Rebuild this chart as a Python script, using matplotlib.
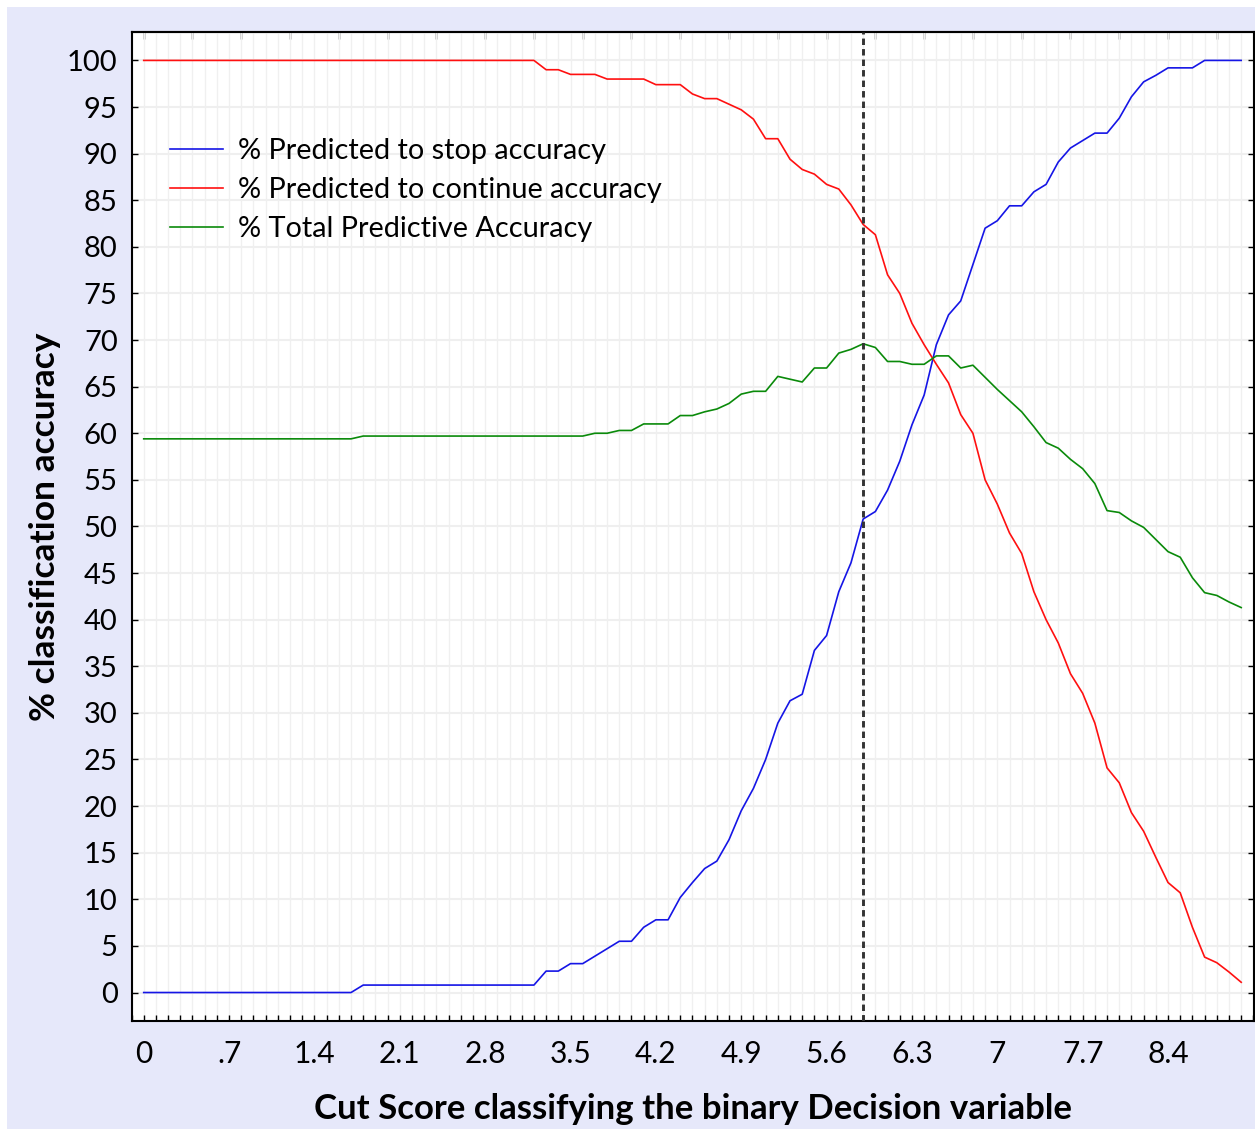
"""
Cut-score accuracy chart: % predicted to stop / continue and total accuracy
against the cut score of the binary Decision variable.
Writes out.png (1255x1130).
"""
import matplotlib
matplotlib.use("Agg")
import matplotlib.pyplot as plt
from matplotlib.patches import Rectangle
from matplotlib.ticker import FixedLocator, MultipleLocator

# Cut scores (x) at steps of 0.1
CUT_SCORES = [
    0.0, 0.1, 0.2, 0.3, 0.4, 0.5, 0.6, 0.7, 0.8, 0.9,
    1.0, 1.1, 1.2, 1.3, 1.4, 1.5, 1.6, 1.7, 1.8, 1.9,
    2.0, 2.1, 2.2, 2.3, 2.4, 2.5, 2.6, 2.7, 2.8, 2.9,
    3.0, 3.1, 3.2, 3.3, 3.4, 3.5, 3.6, 3.7, 3.8, 3.9,
    4.0, 4.1, 4.2, 4.3, 4.4, 4.5, 4.6, 4.7, 4.8, 4.9,
    5.0, 5.1, 5.2, 5.3, 5.4, 5.5, 5.6, 5.7, 5.8, 5.9,
    6.0, 6.1, 6.2, 6.3, 6.4, 6.5, 6.6, 6.7, 6.8, 6.9,
    7.0, 7.1, 7.2, 7.3, 7.4, 7.5, 7.6, 7.7, 7.8, 7.9,
    8.0, 8.1, 8.2, 8.3, 8.4, 8.5, 8.6, 8.7, 8.8, 8.9,
    9.0,
]

# % Predicted to stop accuracy
STOP_ACC = [
    0, 0, 0, 0, 0, 0, 0, 0, 0, 0,
    0, 0, 0, 0, 0, 0, 0, 0, 0.8, 0.8,
    0.8, 0.8, 0.8, 0.8, 0.8, 0.8, 0.8, 0.8, 0.8, 0.8,
    0.8, 0.8, 0.8, 2.3, 2.3, 3.1, 3.1, 3.9, 4.7, 5.5,
    5.5, 7.0, 7.8, 7.8, 10.2, 11.8, 13.3, 14.1, 16.4, 19.5,
    21.9, 25.0, 28.9, 31.3, 32.0, 36.7, 38.3, 43.0, 46.1, 50.8,
    51.6, 53.9, 57.0, 60.9, 64.1, 69.5, 72.7, 74.2, 78.1, 82.0,
    82.8, 84.4, 84.4, 85.9, 86.7, 89.1, 90.6, 91.4, 92.2, 92.2,
    93.8, 96.1, 97.7, 98.4, 99.2, 99.2, 99.2, 100, 100, 100,
    100,
]

# % Predicted to continue accuracy
CONTINUE_ACC = [
    100, 100, 100, 100, 100, 100, 100, 100, 100, 100,
    100, 100, 100, 100, 100, 100, 100, 100, 100, 100,
    100, 100, 100, 100, 100, 100, 100, 100, 100, 100,
    100, 100, 100, 99.0, 99.0, 98.5, 98.5, 98.5, 98.0, 98.0,
    98.0, 98.0, 97.4, 97.4, 97.4, 96.4, 95.9, 95.9, 95.3, 94.7,
    93.7, 91.6, 91.6, 89.4, 88.3, 87.8, 86.7, 86.2, 84.5, 82.4,
    81.3, 77.0, 75.0, 71.8, 69.5, 67.4, 65.4, 62.0, 60.0, 55.0,
    52.4, 49.3, 47.1, 43.0, 40.0, 37.5, 34.2, 32.1, 28.9, 24.1,
    22.5, 19.3, 17.3, 14.5, 11.8, 10.7, 7.0, 3.8, 3.2, 2.2,
    1.1,
]

# % Total Predictive Accuracy
TOTAL_ACC = [
    59.4, 59.4, 59.4, 59.4, 59.4, 59.4, 59.4, 59.4, 59.4, 59.4,
    59.4, 59.4, 59.4, 59.4, 59.4, 59.4, 59.4, 59.4, 59.7, 59.7,
    59.7, 59.7, 59.7, 59.7, 59.7, 59.7, 59.7, 59.7, 59.7, 59.7,
    59.7, 59.7, 59.7, 59.7, 59.7, 59.7, 59.7, 60.0, 60.0, 60.3,
    60.3, 61.0, 61.0, 61.0, 61.9, 61.9, 62.3, 62.6, 63.2, 64.2,
    64.5, 64.5, 66.1, 65.8, 65.5, 67.0, 67.0, 68.6, 69.0, 69.6,
    69.2, 67.7, 67.7, 67.4, 67.4, 68.3, 68.3, 67.0, 67.3, 66.0,
    64.7, 63.5, 62.3, 60.7, 59.0, 58.4, 57.2, 56.2, 54.6, 51.7,
    51.5, 50.6, 49.9, 48.6, 47.3, 46.7, 44.5, 42.9, 42.6, 41.9,
    41.3,
]

SERIES_LABELS = [
    "% Predicted to stop accuracy",
    "% Predicted to continue accuracy",
    "% Total Predictive Accuracy",
]
SERIES_COLORS = ["#1515e6", "#ff1010", "#0a8a0a"]

X_TICKS = [0, 0.7, 1.4, 2.1, 2.8, 3.5, 4.2, 4.9, 5.6, 6.3, 7.0, 7.7, 8.4]
X_TICK_LABELS = ["0", ".7", "1.4", "2.1", "2.8", "3.5", "4.2", "4.9", "5.6",
                 "6.3", "7", "7.7", "8.4"]
Y_TICKS = [0, 5, 10, 15, 20, 25, 30, 35, 40, 45, 50, 55, 60, 65, 70, 75, 80,
           85, 90, 95, 100]
CUTOFF = 5.9  # chosen cut score (dashed line)

FONT = ["Lato", "DejaVu Sans"]


def main():
    plt.rcParams["font.family"] = FONT
    fig = plt.figure(figsize=(12.55, 11.3), dpi=100, facecolor="white")
    # lavender panel behind the plot
    fig.patches.append(Rectangle((0.0056, 0.001), 0.9944, 0.9929,
                                 transform=fig.transFigure, facecolor="#e6e8fa",
                                 edgecolor="none", zorder=-10))
    ax = fig.add_axes([0.1048, 0.0965, 0.8944, 0.8752])
    ax.set_facecolor("white")

    for vals, lab, col in zip([STOP_ACC, CONTINUE_ACC, TOTAL_ACC],
                              SERIES_LABELS, SERIES_COLORS):
        ax.plot(CUT_SCORES, vals, color=col, lw=1.2, label=lab, zorder=3)

    ax.axvline(CUTOFF, color="#333333", lw=2.1, ls=(0, (2.2, 1.4)), zorder=4)

    ax.set_xlim(-0.1, 9.105)
    ax.set_ylim(-3.05, 103.05)

    ax.xaxis.set_major_locator(FixedLocator(X_TICKS))
    ax.set_xticklabels(X_TICK_LABELS)
    ax.xaxis.set_minor_locator(MultipleLocator(0.1))
    ax.set_yticks(Y_TICKS)

    ax.grid(which="minor", axis="x", color="#f0f0f0", lw=1.0, zorder=0)
    ax.grid(which="major", axis="x", color="#f0f0f0", lw=1.0, zorder=0)
    ax.grid(which="major", axis="y", color="#efefef", lw=1.5, zorder=0)
    ax.set_axisbelow(True)

    ax.tick_params(axis="x", which="both", direction="in", length=4, width=1,
                   labelsize=21.5, pad=14)
    ax.tick_params(axis="y", which="major", direction="in", length=4, width=1,
                   labelsize=21, pad=10, right=True)
    for sp in ax.spines.values():
        sp.set_linewidth(1.5)
        sp.set_color("black")

    # top border ticks every 0.4, no labels
    top = ax.secondary_xaxis("top")
    top.set_xticks([0.4 * i for i in range(23)])
    top.tick_params(direction="in", length=5, width=1, labeltop=False)
    top.spines["top"].set_linewidth(1.5)

    ax.set_xlabel("Cut Score classifying the binary Decision variable",
                  fontsize=25, fontweight="bold", labelpad=18)
    ax.set_ylabel("% classification accuracy", fontsize=25.5, fontweight="bold",
                  labelpad=4)

    ax.legend(loc="upper left", bbox_to_anchor=(0.024, 0.904), frameon=False,
              fontsize=20.8, handlelength=1.85, handletextpad=0.5,
              labelspacing=0.45, borderaxespad=0)

    fig.savefig("out.png", dpi=100, facecolor=fig.get_facecolor())
    plt.close(fig)


if __name__ == "__main__":
    main()
